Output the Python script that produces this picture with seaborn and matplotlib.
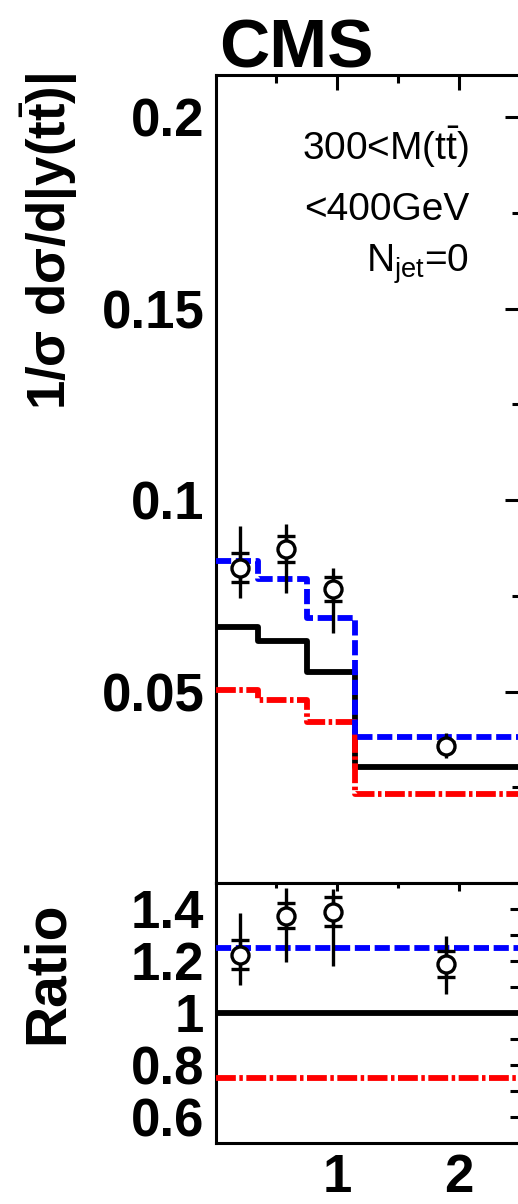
import numpy as np
import pandas as pd
import matplotlib
matplotlib.use("Agg")
import matplotlib.pyplot as plt
from matplotlib.ticker import FixedLocator, FuncFormatter, NullFormatter
import seaborn as sns

# ---------------- data ----------------
bin_edges = [0.0, 0.35, 0.75, 1.15, 2.6]
nominal = [0.0669, 0.0633, 0.0552, 0.0302]      # black solid
scale_up = [0.0841, 0.0794, 0.0693, 0.0380]     # blue dashed
scale_down = [0.0505, 0.0477, 0.0420, 0.0232]   # red dash-dot

data_x = [0.20, 0.58, 0.97, 1.895]
data_y = [0.0823, 0.0872, 0.0768, 0.0359]
data_stat = [0.0038, 0.0034, 0.0031, 0.0008]
data_tot_up = [0.0109, 0.0065, 0.0055, 0.0032]
data_tot_dn = [0.0079, 0.0115, 0.0114, 0.0033]

ratio_nominal = [1.0, 1.0, 1.0, 1.0]
ratio_up = [1.25, 1.25, 1.25, 1.25]
ratio_down = [0.75, 0.75, 0.75, 0.75]
ratio_y = [1.225, 1.374, 1.39, 1.19]
ratio_stat = [0.055, 0.048, 0.055, 0.05]
ratio_tot_up = [0.160, 0.106, 0.087, 0.108]
ratio_tot_dn = [0.118, 0.179, 0.210, 0.117]

top_yticks = [0.05, 0.1, 0.15, 0.2]
top_yminor = [0.025, 0.075, 0.125, 0.175]
ratio_yticks = [0.6, 0.8, 1.0, 1.2, 1.4]
ratio_yminor = [0.5, 0.7, 0.9, 1.1, 1.3, 1.5]
x_ticks = [1, 2]
x_minor = [0.5, 1.5]

# ---------------- style ----------------
sns.set_style("white")
plt.rcParams["font.family"] = ["Liberation Sans", "DejaVu Sans"]
plt.rcParams["mathtext.fontset"] = "custom"
plt.rcParams["mathtext.rm"] = "Liberation Sans"
plt.rcParams["mathtext.bf"] = "Liberation Sans:bold"
plt.rcParams["mathtext.it"] = "Liberation Sans:italic"
for key in ("text.color", "axes.labelcolor", "xtick.color", "ytick.color",
            "axes.edgecolor"):
    plt.rcParams[key] = "black"

W, H = 518, 1204
fig = plt.figure(figsize=(W / 100, H / 100), dpi=100)

x_left = 215.5
x_right = 520.0
xmax = (x_right - x_left) / 121.5

ax = fig.add_axes([x_left / W, 1 - 883 / H, (x_right - x_left) / W, (883 - 75) / H])
axr = fig.add_axes([x_left / W, 1 - 1143 / H, (x_right - x_left) / W, (1143 - 883) / H])

LW = 4.2
BLUE = (0, 0, 1)
RED = (1, 0, 0)
dash_blue = (0, (2.6, 0.8))
dash_red = (0, (3.4, 0.6, 0.6, 0.6))


def step_line(a, vals, color, ls, z):
    df = pd.DataFrame({"x": bin_edges, "y": list(vals) + [vals[-1]]})
    n0 = len(a.lines)
    sns.lineplot(data=df, x="x", y="y", ax=a, color=color, linestyle=ls,
                 linewidth=LW, drawstyle="steps-post", estimator=None,
                 sort=False, legend=False, zorder=z)
    for ln in a.lines[n0:]:
        ln.set_linewidth(LW)
        ln.set_linestyle(ls)
        ln.set_dash_capstyle("butt")
        ln.set_solid_capstyle("butt")
        ln.set_zorder(z)


def data_points(a, xs, ys, stat, dn, up):
    a.errorbar(xs, ys, yerr=[dn, up], fmt="none", ecolor="black",
               elinewidth=2.4, capsize=0, zorder=5)
    a.errorbar(xs, ys, yerr=stat, fmt="none", ecolor="black",
               elinewidth=2.4, capsize=6.2, capthick=2.4, zorder=5)
    sns.scatterplot(x=xs, y=ys, ax=a, marker="o", s=150, legend=False)
    coll = a.collections[-1]
    coll.set_facecolor("white")
    coll.set_edgecolor("black")
    coll.set_linewidth(2.4)
    coll.set_zorder(6)


# ---------------- top panel ----------------
step_line(ax, nominal, "black", "-", 2)
step_line(ax, scale_down, RED, dash_red, 3)
step_line(ax, scale_up, BLUE, dash_blue, 4)
data_points(ax, data_x, data_y, data_stat, data_tot_dn, data_tot_up)

ax.set_xlim(0, xmax)
ax.set_ylim(0.0, 0.211)
ax.set_xlabel("")
ax.set_ylabel("")
ax.xaxis.set_major_locator(FixedLocator(x_ticks))
ax.xaxis.set_minor_locator(FixedLocator(x_minor))
ax.yaxis.set_major_locator(FixedLocator(top_yticks))
ax.yaxis.set_minor_locator(FixedLocator(top_yminor))
ax.yaxis.set_major_formatter(FuncFormatter(lambda v, p: f"{v:g}"))
ax.xaxis.set_minor_formatter(NullFormatter())
ax.tick_params(which="both", direction="in", width=2.2, top=True, right=True,
               labelbottom=False, labelsize=38, pad=8, colors="black")
ax.tick_params(which="major", length=10.8)
ax.tick_params(which="minor", length=5.8)
for lab in ax.get_yticklabels():
    lab.set_fontweight("bold")

# ---------------- ratio panel ----------------
step_line(axr, ratio_nominal, "black", "-", 2)
step_line(axr, ratio_down, RED, dash_red, 3)
step_line(axr, ratio_up, BLUE, dash_blue, 4)
data_points(axr, data_x, ratio_y, ratio_stat, ratio_tot_dn, ratio_tot_up)

axr.set_xlim(0, xmax)
axr.set_ylim(0.5, 1.5)
axr.set_xlabel("")
axr.set_ylabel("")
axr.xaxis.set_major_locator(FixedLocator(x_ticks))
axr.xaxis.set_minor_locator(FixedLocator(x_minor))
axr.yaxis.set_major_locator(FixedLocator(ratio_yticks))
axr.yaxis.set_minor_locator(FixedLocator(ratio_yminor))
axr.yaxis.set_major_formatter(FuncFormatter(lambda v, p: f"{v:g}"))
axr.xaxis.set_major_formatter(FuncFormatter(lambda v, p: f"{v:g}"))
axr.tick_params(which="both", direction="in", width=2.2, top=True, right=True,
                labelsize=38, pad=8, colors="black")
axr.tick_params(axis="x", which="major", length=6.0, pad=7)
axr.tick_params(axis="x", which="minor", length=3.6)
axr.tick_params(axis="y", which="both", length=7.0)
for lab in axr.get_yticklabels() + axr.get_xticklabels():
    lab.set_fontweight("bold")

for a in (ax, axr):
    for sp in a.spines.values():
        sp.set_linewidth(2.2)
        sp.set_color("black")
        sp.set_visible(True)

# ---------------- texts ----------------
fig.text(219 / W, 1 - 67 / H, "CMS", fontsize=50, fontweight="bold",
         ha="left", va="baseline")
fig.text(469 / W, 1 - 160 / H, r"300<M(t$\bar{\mathrm{t}}$)", fontsize=28,
         ha="right", va="baseline")
fig.text(469 / W, 1 - 220 / H, "<400GeV", fontsize=28,
         ha="right", va="baseline")
fig.text(469 / W, 1 - 272 / H, r"N$_{\mathrm{jet}}$=0", fontsize=28,
         ha="right", va="baseline")

fig.text(49 / W, 1 - 73 / H, r"1/σ dσ/d|y(t$\bar{\mathbf{t}}$)|",
         fontsize=38, fontweight="bold", rotation=90, ha="center", va="top")
fig.text(48 / W, 1 - 973 / H, "Ratio", fontsize=41, fontweight="bold",
         rotation=90, ha="center", va="center")

fig.savefig("out.png", dpi=100)
